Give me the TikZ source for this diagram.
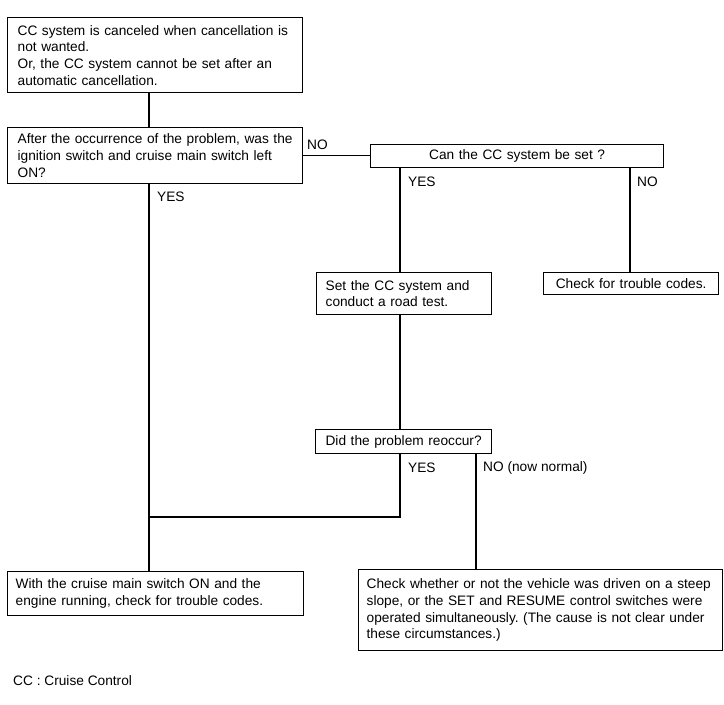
\documentclass[tikz,border=0pt]{standalone}
\usepackage{fontspec}
\setmainfont{Liberation Sans}
\frenchspacing
\begin{document}
\begin{tikzpicture}[x=1pt,y=-1pt,
  box/.style={draw,line width=1.3pt,anchor=north west,inner sep=0pt,font=\fontsize{13.7}{16.7}\selectfont},
  lbl/.style={anchor=west,inner sep=0pt,font=\fontsize{13.7}{16.7}\selectfont},
  conn/.style={line width=1.3pt}]
\useasboundingbox (0,0) rectangle (724,705);
% boxes
\node[box,minimum width=295pt,minimum height=75pt,text width=275pt,align=left] (b1) at (7,17)
  {CC system is canceled when cancellation is\\not wanted.\\Or, the CC system cannot be set after an\\automatic cancellation.};
\node[box,minimum width=295pt,minimum height=56pt,text width=275pt,align=left] (b2) at (7,127)
  {After the occurrence of the problem, was the\\ignition switch and cruise main switch left\\ON?};
\node[box,minimum width=293pt,minimum height=23pt,text width=293pt,align=center] (can) at (370,144)
  {Can the CC system be set ?};
\node[box,minimum width=175pt,minimum height=42pt,text width=157pt,align=left] (set) at (316,272)
  {Set the CC system and\\conduct a road test.};
\node[box,minimum width=175pt,minimum height=22pt,text width=175pt,align=center] (chk) at (543,272)
  {Check for trouble codes.};
\node[box,minimum width=176pt,minimum height=24pt,text width=176pt,align=center] (did) at (315,429)
  {Did the problem reoccur?};
\node[box,minimum width=296pt,minimum height=44pt,text width=280pt,align=left] (with) at (7,571)
  {With the cruise main switch ON and the\\engine running, check for trouble codes.};
\node[box,minimum width=364pt,minimum height=81pt,text width=348pt,align=left] (chk2) at (358,569)
  {Check whether or not the vehicle was driven on a steep\\slope, or the SET and RESUME control switches were\\operated simultaneously. (The cause is not clear under\\these circumstances.)};
% guide coordinates
\coordinate (xl) at (149,0);
\coordinate (xy) at (400,0);
\coordinate (xn) at (630,0);
\coordinate (xd) at (476,0);
\coordinate (j) at (149,517);
% connectors
\draw[conn] (b1.south -| xl) -- (b2.north -| xl);
\draw[conn] (b2.east) -- (b2.east -| can.west);
\draw[conn] (can.south -| xy) -- (set.north -| xy);
\draw[conn] (can.south -| xn) -- (chk.north -| xn);
\draw[conn] (set.south -| xy) -- (did.north -| xy);
\draw[conn] (did.south -| xy) |- (j);
\draw[conn] (b2.south -| xl) -- (with.north -| xl);
\draw[conn] (did.south -| xd) -- (chk2.north -| xd);
% labels
\node[lbl] (lno1) at (307,145) {NO};
\node[lbl] (lyes1) at (157,197) {YES};
\node[lbl] (lyes2) at (408,182) {YES};
\node[lbl] (lno2) at (637,182) {NO};
\node[lbl] (lyes3) at (408,468) {YES};
\node[lbl] (lno3) at (483,468) {NO (now normal)};
\node[lbl] (cc) at (13,681) {CC : Cruise Control};
\end{tikzpicture}
\end{document}
